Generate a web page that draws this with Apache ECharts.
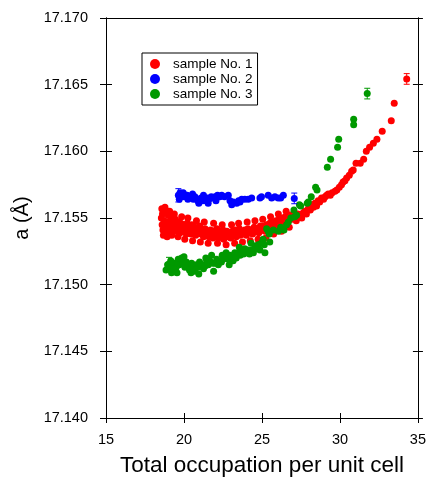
<!DOCTYPE html>
<html>
<head>
<meta charset="utf-8">
<script src="https://cdn.jsdelivr.net/npm/echarts@6/dist/echarts.min.js"></script>
<style>html,body{margin:0;padding:0;background:#fff;}#c{width:429px;height:482px;}</style>
</head>
<body>
<div id="c"></div>
<script>
var seriesNames = ['sample No. 1', 'sample No. 2', 'sample No. 3'];
var xTicks = [15, 20, 25, 30, 35];
var yTicks = [17.140, 17.145, 17.150, 17.155, 17.160, 17.165, 17.170];

var sample1 = [[18.55,17.1550],[18.6,17.1545],[18.62,17.1553],[18.65,17.1541],[18.7,17.1556],[18.72,17.1548],[18.75,17.1543],[18.8,17.1547],[18.83,17.1539],[18.86,17.1555],[18.9,17.1547],[18.95,17.1542],[19.0,17.1552],[19.05,17.1546],[19.1,17.1540],[19.15,17.1549],[19.2,17.1544],[19.25,17.1551],[19.3,17.1543],[19.35,17.1547],[19.4,17.1540],[19.45,17.1549],[19.5,17.1545],[19.55,17.1541],[19.6,17.1547],[19.7,17.1543],[19.75,17.1539],[19.8,17.1546],[19.9,17.1542],[19.95,17.1545],[20.0,17.1540],[20.1,17.1544],[20.15,17.1538],[20.2,17.1546],[20.3,17.1541],[20.4,17.1543],[20.45,17.1538],[20.5,17.1545],[20.6,17.1540],[20.7,17.1543],[20.75,17.1537],[20.85,17.1542],[20.9,17.1539],[21.0,17.1544],[21.1,17.1538],[21.2,17.1541],[21.25,17.1536],[21.35,17.1542],[21.4,17.1538],[21.5,17.1540],[21.6,17.1536],[21.7,17.1541],[21.8,17.1538],[21.85,17.1535],[21.95,17.1540],[22.05,17.1537],[22.1,17.1542],[22.2,17.1535],[22.3,17.1539],[22.4,17.1537],[22.5,17.1541],[22.55,17.1534],[22.65,17.1538],[22.75,17.1540],[22.8,17.1536],[22.9,17.1539],[23.0,17.1535],[23.1,17.1540],[23.2,17.1537],[23.3,17.1541],[23.35,17.1536],[23.45,17.1539],[23.55,17.1542],[23.6,17.1537],[23.7,17.1540],[23.8,17.1538],[23.9,17.1541],[24.0,17.1537],[24.1,17.1542],[24.2,17.1539],[24.3,17.1541],[24.4,17.1538],[24.5,17.1543],[24.6,17.1540],[24.7,17.1542],[24.8,17.1539],[24.9,17.1544],[25.0,17.1541],[25.1,17.1544],[25.2,17.1540],[25.3,17.1545],[25.4,17.1542],[25.5,17.1546],[25.6,17.1543],[25.7,17.1547],[25.8,17.1544],[25.9,17.1548],[26.0,17.1545],[26.1,17.1549],[26.2,17.1546],[26.3,17.1550],[26.4,17.1547],[26.5,17.1551],[26.6,17.1547],[26.7,17.1549],[26.8,17.1552],[26.9,17.1549],[27.0,17.1553],[27.1,17.1551],[27.2,17.1548],[27.3,17.1553],[27.44,17.1552],[27.55,17.1550],[27.65,17.1554],[27.75,17.1555],[27.85,17.1553],[27.97,17.1557],[28.1,17.1556],[28.2,17.1560],[28.3,17.1558],[28.4,17.1561],[28.5,17.1559],[28.6,17.1563],[28.7,17.1562],[28.82,17.1565],[28.95,17.1564],[29.05,17.1566],[29.15,17.1567],[29.25,17.1568],[29.38,17.1567],[29.5,17.1569],[29.68,17.1570],[29.8,17.1571],[29.96,17.1573],[30.1,17.1575],[30.2,17.1577],[30.32,17.1578],[30.43,17.1580],[30.6,17.1582],[30.75,17.1585],[30.85,17.1586],[31.03,17.1591],[31.3,17.1591],[31.52,17.1594],[31.69,17.1600],[31.9,17.1603],[32.14,17.1606],[32.37,17.1609],[32.71,17.1615],[33.29,17.1623],[33.48,17.1636],[34.28,17.16543],
  [18.58,17.1557],[18.68,17.1537],[18.78,17.1558],[18.92,17.1536],[19.08,17.1555],[19.22,17.1537],[19.38,17.1553],[19.62,17.1536],[19.85,17.1551],[20.05,17.1534],[20.25,17.1550],[20.55,17.1533],[20.8,17.1548],[21.05,17.1532],[21.3,17.1547],[21.55,17.1531],[21.9,17.1546],[22.15,17.1531],[22.45,17.1545],[22.7,17.1530],[23.05,17.1545],[23.25,17.1531],[23.5,17.1546],[23.75,17.1532],[24.05,17.1547],[24.25,17.1533],[24.55,17.1548],[24.75,17.1534],[25.05,17.1549],[25.25,17.1535],[25.55,17.1551],[25.75,17.1538],[26.05,17.1553],[26.25,17.1540],[26.55,17.1555],[26.75,17.1543]];

var sample2 = [[19.64,17.1567],[19.75,17.1569],[19.8,17.1566],[19.9,17.1568],[20.0,17.1566],[20.1,17.1567],[20.2,17.1567],[20.3,17.1565],[20.4,17.1566],[20.5,17.1565],[20.6,17.1564],[20.7,17.1566],[20.8,17.1564],[20.9,17.1563],[21.0,17.1564],[21.1,17.1565],[21.2,17.1563],[21.3,17.1564],[21.4,17.1563],[21.5,17.1565],[21.6,17.1564],[21.75,17.1566],[21.85,17.1565],[22.0,17.1566],[22.15,17.1567],[22.3,17.1566],[22.42,17.1567],[22.6,17.1566],[22.84,17.1567],[22.95,17.1563],[23.06,17.1560],[23.16,17.1562],[23.38,17.1561],[23.5,17.1563],[23.59,17.1562],[23.7,17.1564],[23.9,17.1564],[24.12,17.1564],[24.34,17.1565],[24.87,17.1565],[24.97,17.1566],[25.4,17.1567],[25.62,17.1565],[25.83,17.1566],[26.04,17.1565],[26.2,17.1565],[26.37,17.1567],[27.07,17.15647],
  [19.7,17.1564],[19.95,17.1569],[20.25,17.1564],[20.55,17.1568],[20.95,17.1561],[21.25,17.1567],[21.55,17.1561],[22.05,17.1563]];

var sample3 = [[18.85,17.1511],[18.95,17.1515],[19.04,17.15155],[19.1,17.1512],[19.2,17.1509],[19.28,17.1514],[19.35,17.1511],[19.42,17.1516],[19.5,17.1513],[19.63,17.1519],[19.7,17.1515],[19.85,17.1520],[19.96,17.1516],[20.06,17.1513],[20.15,17.1517],[20.28,17.1514],[20.35,17.1511],[20.49,17.1516],[20.6,17.1513],[20.7,17.1510],[20.8,17.1515],[20.9,17.1513],[21.0,17.1517],[21.13,17.1515],[21.25,17.1512],[21.35,17.1514],[21.45,17.1517],[21.56,17.1515],[21.65,17.1518],[21.77,17.1522],[21.85,17.1516],[21.99,17.1516],[22.1,17.1519],[22.2,17.1515],[22.3,17.1517],[22.4,17.1517],[22.5,17.1519],[22.63,17.1520],[22.7,17.1524],[22.84,17.1519],[22.95,17.1522],[23.05,17.1521],[23.15,17.1518],[23.26,17.1524],[23.35,17.1520],[23.48,17.1524],[23.6,17.1522],[23.75,17.1526],[23.82,17.1523],[23.9,17.1527],[24.0,17.1524],[24.1,17.1526],[24.2,17.1523],[24.34,17.1526],[24.45,17.1524],[24.55,17.1529],[24.65,17.1527],[24.75,17.1530],[24.87,17.1526],[24.95,17.1531],[25.08,17.1534],[25.15,17.1530],[25.19,17.1524],[25.3,17.1542],[25.4,17.1540],[25.47,17.1538],[25.5,17.1532],[25.73,17.1541],[26.05,17.1540],[26.2,17.1543],[26.41,17.1541],[26.58,17.1545],[26.69,17.1547],[26.85,17.1550],[27.05,17.1556],[27.1,17.1551],[27.22,17.1552],[27.4,17.1560],[27.48,17.1559],[27.9,17.1561],[27.97,17.1562],[28.16,17.1566],[28.44,17.1573],[28.53,17.1571],[29.19,17.1588],[29.4,17.1594],[29.85,17.1603],[29.92,17.1609],[30.88,17.1620],[30.88,17.1624],[31.75,17.16433],
  [19.15,17.1518],[19.55,17.1509],[20.0,17.1521],[20.45,17.1509],[20.95,17.1508],[21.4,17.1520],[21.9,17.1510],[22.45,17.1522],[22.9,17.1515],[23.55,17.1528],[24.3,17.1531]];

// error bars: [x, y, halfWidth]
var err1 = [[18.8,17.1547,0.0007],[34.28,17.16543,0.0004]];
var err2 = [[19.64,17.1567,0.0005],[27.07,17.15647,0.0004]];
var err3 = [[19.04,17.15155,0.0005],[31.75,17.16433,0.0004]];

var colors = ['#ff0000', '#0000ff', '#009900'];
var FONT = 'Liberation Sans, Arial, sans-serif';

function errSeries(data, color) {
  return {
    type: 'custom', data: data, z: 5, silent: true,
    renderItem: function (params, api) {
      var x = api.value(0), y = api.value(1), e = api.value(2);
      var lo = api.coord([x, y - e]), hi = api.coord([x, y + e]);
      var cap = 3;
      return {
        type: 'group',
        children: [
          {type: 'line', shape: {x1: lo[0], y1: lo[1], x2: hi[0], y2: hi[1]}, style: {stroke: color, lineWidth: 1}},
          {type: 'line', shape: {x1: lo[0]-cap, y1: lo[1], x2: lo[0]+cap, y2: lo[1]}, style: {stroke: color, lineWidth: 1}},
          {type: 'line', shape: {x1: hi[0]-cap, y1: hi[1], x2: hi[0]+cap, y2: hi[1]}, style: {stroke: color, lineWidth: 1}}
        ]
      };
    }
  };
}

var chart = echarts.init(document.getElementById('c'), null, {renderer: 'canvas'});
var axLine = {show: true, lineStyle: {color: '#000', width: 1}};
var xMin = xTicks[0], xMax = xTicks[xTicks.length-1], xInt = xTicks[1]-xTicks[0];
var yMin = yTicks[0], yMax = yTicks[yTicks.length-1], yInt = 0.005;

function xa(extra) {
  return Object.assign({type: 'value', min: xMin, max: xMax, interval: xInt, axisLine: axLine,
    splitLine: {show: false}, axisLabel: {show: false}, axisTick: {show: false}}, extra);
}
function ya(extra) {
  return Object.assign({type: 'value', min: yMin, max: yMax, interval: yInt, axisLine: axLine,
    splitLine: {show: false}, axisLabel: {show: false}, axisTick: {show: false}}, extra);
}

var option = {
  animation: false,
  backgroundColor: '#fff',
  grid: {left: 106, right: 11, top: 18, bottom: 63, containLabel: false},
  legend: {
    orient: 'vertical', left: 142, top: 53,
    data: seriesNames, icon: 'circle', itemWidth: 18, itemHeight: 10, itemGap: 1,
    padding: [4, 5, 4, 8], borderColor: '#000', borderWidth: 1,
    textStyle: {fontFamily: FONT, fontSize: 13.5, color: '#000', lineHeight: 14, padding: [0, 0, 0, 4]}
  },
  xAxis: [
    xa({position: 'bottom', axisTick: {show: true, inside: false, length: 5, lineStyle: {color: '#000'}},
        axisLabel: {show: true, fontFamily: FONT, fontSize: 14.5, color: '#000', margin: 14},
        name: 'Total occupation per unit cell', nameLocation: 'middle', nameGap: 36,
        nameTextStyle: {fontFamily: FONT, fontSize: 22.5, color: '#000'}}),
    xa({position: 'bottom', axisTick: {show: true, inside: true, length: 5, lineStyle: {color: '#000'}}}),
    xa({position: 'top'})
  ],
  yAxis: [
    ya({position: 'left', axisTick: {show: true, inside: false, length: 6, lineStyle: {color: '#000'}},
        axisLabel: {show: true, fontFamily: FONT, fontSize: 14.5, color: '#000', margin: 18,
          formatter: function (v) { return v.toFixed(3); }},
        name: 'a (Å)', nameLocation: 'middle', nameGap: 67,
        nameTextStyle: {fontFamily: FONT, fontSize: 20, color: '#000'}}),
    ya({position: 'left', axisTick: {show: true, inside: true, length: 6, lineStyle: {color: '#000'}}}),
    ya({position: 'right', axisTick: {show: true, inside: false, length: 5, lineStyle: {color: '#000'}}}),
    ya({position: 'right', axisTick: {show: true, inside: true, length: 5, lineStyle: {color: '#000'}}})
  ],
  series: [
    {name: seriesNames[0], type: 'scatter', data: sample1, symbolSize: 7, itemStyle: {color: colors[0], opacity: 1}},
    {name: seriesNames[1], type: 'scatter', data: sample2, symbolSize: 7, itemStyle: {color: colors[1], opacity: 1}},
    {name: seriesNames[2], type: 'scatter', data: sample3, symbolSize: 7, itemStyle: {color: colors[2], opacity: 1}},
    errSeries(err1, colors[0]),
    errSeries(err2, colors[1]),
    errSeries(err3, colors[2])
  ]
};
chart.setOption(option);
</script>
</body>
</html>
